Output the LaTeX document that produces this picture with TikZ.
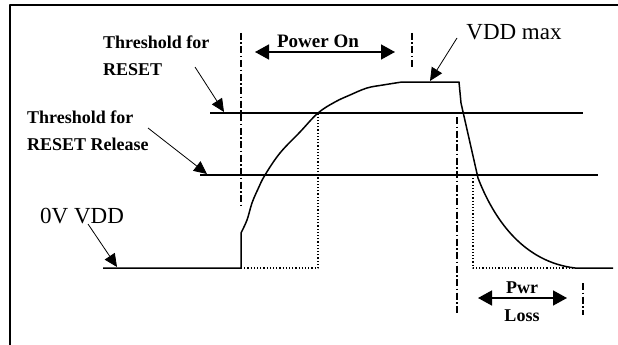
\documentclass[tikz,border=0pt]{standalone}
\usepackage{fontspec}
\setmainfont{Liberation Serif}
\usetikzlibrary{arrows.meta}

\tikzset{
  trace/.style={line width=1.5pt},
  guide/.style={line width=1.2pt,dotted},
  marker/.style={line width=1.2pt,dash pattern=on 7pt off 2.5pt on 1.5pt off 2.5pt},
  ptr/.style={line width=0.8pt,-{Triangle[length=13pt,width=12pt]}},
  span/.style={line width=1.5pt,{Triangle[length=14pt,width=15pt]}-{Triangle[length=14pt,width=15pt]}},
  lbl/.style={font=\bfseries\fontsize{18}{27}\selectfont,align=left,inner sep=0pt},
  big/.style={font=\fontsize{23}{27}\selectfont,inner sep=0pt},
}

\begin{document}
\begin{tikzpicture}[x=1pt,y=-1pt,line join=round]
  \useasboundingbox (0,0) rectangle (618,345);
  \draw[line width=2pt] (9.5,345) -- (9.5,5) -- (618,5);

  \draw[trace] (210,113) -- (583,113);
  \draw[trace] (200,175) -- (598,175);
  \draw[guide] (241,268) -- (318,268) -- (318,113);
  \draw[guide] (473,175) -- (473,268) -- (575,268);
  \draw[trace] (103,268) -- (241,268) -- (241,233)
    -- plot[smooth,tension=0.6] coordinates {(241,233) (247,220) (252,203) (258,189)
      (265,175) (280,153) (300,132) (318,113) (335,102) (350,95) (367,88) (383,85) (402,82)}
    -- (459,82) -- (461,103) -- (478,178)
    .. controls (495,222) and (525,262) .. (575,268) -- (613,268);

  \draw[marker] (241,33) -- (241,205);
  \draw[marker] (412,33) -- (412,68);
  \draw[marker] (457,117) -- (457,315);
  \draw[marker] (583,283) -- (583,315);

  \node[lbl,anchor=west] (rst) at (103,56) {Threshold for\\RESET};
  \node[lbl,anchor=west] (rel) at (27,131) {Threshold for\\RESET Release};
  \node[big,anchor=west] (zero) at (40,216) {0V VDD};
  \node[big] (vmax) at (514,32) {VDD max};
  \node[lbl,font=\bfseries\fontsize{19}{22}\selectfont] (pon) at (318,41) {Power On};
  \node[lbl] (pwr) at (522,288) {Pwr};
  \node[lbl] (loss) at (522,316) {Loss};

  \coordinate (rstfrom) at (195,67);
  \coordinate (rstto) at (224,112);
  \coordinate (relfrom) at (148,128);
  \coordinate (relto) at (207,174);
  \coordinate (zerofrom) at (88,224);
  \coordinate (zeroto) at (117,267);
  \coordinate (vmaxfrom) at (457,38);
  \coordinate (vmaxto) at (430,81);
  \coordinate (ponl) at (255,52);
  \coordinate (ponr) at (395,52);
  \coordinate (lossl) at (478,298);
  \coordinate (lossr) at (567,298);

  \draw[ptr] (rstfrom) -- (rstto);
  \draw[ptr] (relfrom) -- (relto);
  \draw[ptr] (zerofrom) -- (zeroto);
  \draw[ptr] (vmaxfrom) -- (vmaxto);
  \draw[span] (ponl) -- (ponr);
  \draw[span] (lossl) -- (lossr);
\end{tikzpicture}
\end{document}
